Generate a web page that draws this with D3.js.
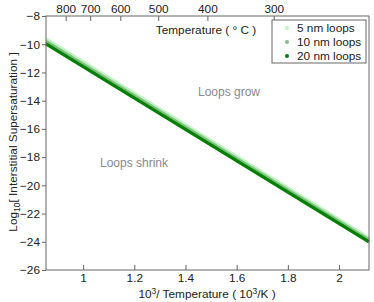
<!DOCTYPE html>
<html><head><meta charset="utf-8">
<script src="https://cdn.jsdelivr.net/npm/d3@7"></script>
<style>body{margin:0;background:#fff;} text{font-family:"Liberation Sans",Arial,sans-serif;}</style>
</head><body><svg id="c" width="374" height="302"></svg>
<script>
const xEnds = [0.855, 2.117];
const loops5 = [-9.62, -23.72];
const loops10 = [-9.8, -23.86];
const loops20 = [-9.97, -24.0];
const seriesNames = ["5 nm loops", "10 nm loops", "20 nm loops"];
const seriesColors = ["#bff5bf", "#80c080", "#007f00"];
const xTicks = [1, 1.2, 1.4, 1.6, 1.8, 2];
const yTicks = [-8, -10, -12, -14, -16, -18, -20, -22, -24, -26];
const tempTicksC = [800, 700, 600, 500, 400, 300];

const svg = d3.select("#c");
const L = 46, R = 369, T = 16, B = 270;
const x = d3.scaleLinear().domain([0.855, 2.117]).range([L, R]);
const y = d3.scaleLinear().domain([-26, -8]).range([B, T]);
const axisCol = "#666", txtCol = "#222";
const fs = 11.8;
const fmt = d => (d < 0 ? "\u2212" + Math.abs(d) : String(d));

// lines
const series = [loops5, loops10, loops20];
const line = d3.line().x(d => x(d[0])).y(d => y(d[1]));
series.forEach((s, i) => {
  svg.append("path").datum(xEnds.map((xv, j) => [xv, s[j]]))
    .attr("d", line).attr("fill", "none")
    .attr("stroke", seriesColors[i]).attr("stroke-width", 3.2);
});

// frame
svg.append("rect").attr("x", L).attr("y", T).attr("width", R - L).attr("height", B - T)
  .attr("fill", "none").attr("stroke", axisCol).attr("stroke-width", 1);

// bottom axis (inward ticks)
const gx = svg.append("g").attr("transform", `translate(0,${B})`)
  .call(d3.axisBottom(x).tickValues(xTicks).tickSizeInner(-5).tickSizeOuter(0).tickPadding(4).tickFormat(d => String(d)));
gx.select(".domain").remove();
gx.selectAll("line").attr("stroke", axisCol);
gx.selectAll("text").attr("font-size", fs).attr("fill", txtCol);

// left axis (outward ticks)
const gy = svg.append("g").attr("transform", `translate(${L},0)`)
  .call(d3.axisLeft(y).tickValues(yTicks).tickSizeInner(4).tickSizeOuter(0).tickPadding(2).tickFormat(fmt));
gy.select(".domain").remove();
gy.selectAll("line").attr("stroke", axisCol);
gy.selectAll("text").attr("font-size", fs).attr("fill", txtCol);

// top axis temperatures (inward)
const gt = svg.append("g").attr("transform", `translate(0,${T})`)
  .call(d3.axisTop(x).tickValues(tempTicksC.map(c => 1000 / (c + 273.15))).tickSizeInner(-5).tickSizeOuter(0).tickPadding(3)
    .tickFormat((d, i) => String(tempTicksC[i])));
gt.select(".domain").remove();
gt.selectAll("line").attr("stroke", axisCol);
gt.selectAll("text").attr("font-size", fs).attr("fill", txtCol);

svg.append("text").attr("x", 206).attr("y", 34).attr("text-anchor", "middle")
  .attr("font-size", fs).attr("fill", txtCol).text("Temperature ( \u00b0 C )");

// axis labels
const xl = svg.append("text").attr("x", 207).attr("y", 298).attr("text-anchor", "middle")
  .attr("font-size", fs).attr("fill", txtCol);
xl.append("tspan").text("10");
xl.append("tspan").attr("dy", -4).attr("font-size", 8.5).text("3");
xl.append("tspan").attr("dy", 4).text("/ Temperature ( 10");
xl.append("tspan").attr("dy", -4).attr("font-size", 8.5).text("3");
xl.append("tspan").attr("dy", 4).text("/K )");

const yl = svg.append("text").attr("transform", "translate(17,142) rotate(-90)")
  .attr("text-anchor", "middle").attr("font-size", fs).attr("fill", txtCol);
yl.append("tspan").text("Log");
yl.append("tspan").attr("dy", 3).attr("font-size", 8.5).text("10");
yl.append("tspan").attr("dy", -3).text("[ Interstitial Supersaturation ]");

// annotations
svg.append("text").attr("x", 198).attr("y", 96).attr("font-size", 12).attr("fill", "#8a8a8a").text("Loops grow");
svg.append("text").attr("x", 100).attr("y", 167).attr("font-size", 12).attr("fill", "#8a8a8a").text("Loops shrink");

// legend
const lg = svg.append("g");
lg.append("rect").attr("x", 272).attr("y", 20).attr("width", 94).attr("height", 43)
  .attr("fill", "#fff").attr("stroke", axisCol).attr("stroke-width", 1);
seriesNames.forEach((n, i) => {
  const yy = 28 + i * 14;
  lg.append("circle").attr("cx", 287).attr("cy", yy).attr("r", 2).attr("fill", seriesColors[i]);
  lg.append("text").attr("x", 297).attr("y", yy + 4).attr("font-size", fs).attr("fill", txtCol).text(n);
});
</script></body></html>
